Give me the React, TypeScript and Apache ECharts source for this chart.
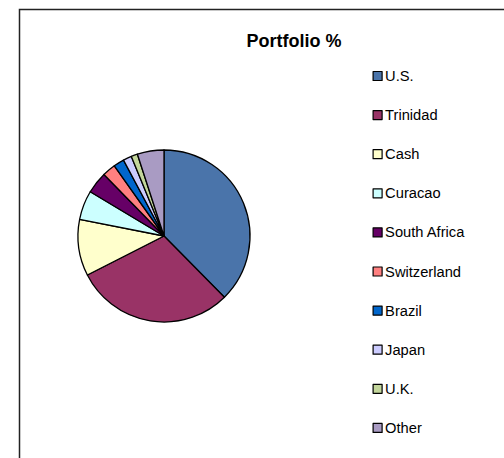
import React, { useEffect, useRef } from "react";
import * as echarts from "echarts";

const categories = ["U.S.", "Trinidad", "Cash", "Curacao", "South Africa", "Switzerland", "Brazil", "Japan", "U.K.", "Other"];
const values = [37.6, 29.9, 10.6, 5.5, 4.1, 2.5, 2.0, 1.6, 1.2, 5.0];
const colors = ["#4A74AA", "#993366", "#FFFFCC", "#CCFFFF", "#660066", "#FF8080", "#0066CC", "#CCCCFF", "#C3D69B", "#A99BC3"];

export default function App() {
  const ref = useRef<HTMLDivElement>(null);
  useEffect(() => {
    if (!ref.current) return;
    const chart = echarts.init(ref.current, undefined, { renderer: "svg" });
    chart.setOption({
      animation: false,
      backgroundColor: "#fff",
      title: {
        text: "Portfolio %",
        left: 289,
        top: 27,
        textAlign: "center",
        textStyle: { fontFamily: "Liberation Sans, Arial", fontSize: 18, fontWeight: "bold", color: "#000" },
      },
      graphic: [
        {
          type: "rect",
          shape: { x: 19.5, y: 9.5, width: 600, height: 600 },
          style: { fill: "none", stroke: "#222", lineWidth: 1.5 },
          silent: true,
          z: -1,
        },
      ],
      legend: {
        orient: "vertical",
        left: 372.5,
        top: 68,
        padding: 0,
        itemGap: 23.1,
        itemWidth: 9,
        itemHeight: 9,
        icon: "rect",
        itemStyle: { borderColor: "#000", borderWidth: 1.2 },
        textStyle: { fontFamily: "Liberation Sans, Arial", fontSize: 14.7, color: "#000", padding: [0, 0, 0, -2], lineHeight: 16 },
        data: categories,
      },
      color: colors,
      series: [
        {
          type: "pie",
          center: [164, 236],
          radius: 86,
          startAngle: 90,
          clockwise: true,
          label: { show: false },
          labelLine: { show: false },
          itemStyle: { borderColor: "#000", borderWidth: 1.3 },
          emphasis: { disabled: true },
          data: categories.map((c, i) => ({ name: c, value: values[i] })),
        },
      ],
    });
    return () => chart.dispose();
  }, []);
  return <div ref={ref} style={{ position: "absolute", left: 0, top: 0, width: 504, height: 458 }} />;
}
